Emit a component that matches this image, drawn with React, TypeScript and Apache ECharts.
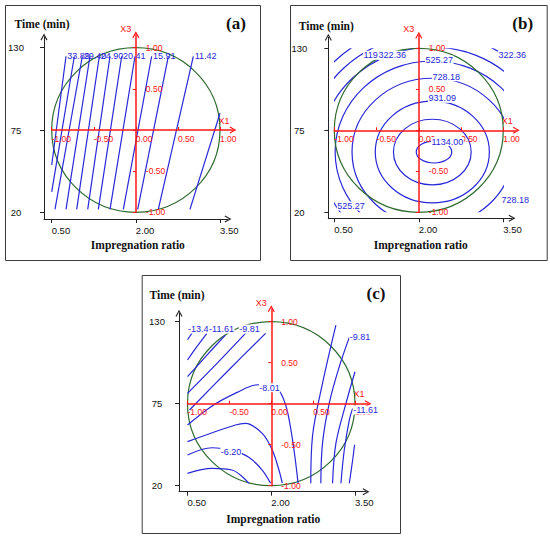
import React, { useEffect, useRef } from 'react';
import * as echarts from 'echarts';

// ---------------- data ----------------
const impregnationTicks = [0.5, 2.0, 3.5];
const timeTicks = [20, 75, 130];
const codedX1Ticks = [-1, -0.5, 0, 0.5, 1];
const codedX3Labels = [-1, -0.5, 0.5, 1];
// design region, coded units: [X1 centre, X3 centre, radius]
const designCircle = [[0, 0, 1]];

// (a) contour lines, coded units [X1, X3]
const contoursA = [
  [[-1.0, -0.425], [-0.83, 0.896]],
  [[-1.0, -0.753], [-0.731, 0.896]],
  [[-0.961, -0.964], [-0.636, 0.896]],
  [[-0.83, -0.964], [-0.545, 0.896]],
  [[-0.703, -0.964], [-0.434, 0.896]],
  [[-0.572, -0.964], [-0.307, 0.896]],
  [[-0.446, -0.964], [-0.168, 0.896]],
  [[-0.307, -0.964], [-0.01, 0.896]],
  [[-0.149, -0.964], [0.188, 0.896]],
  [[0.022, -0.964], [0.386, 0.896]],
  [[0.267, -0.964], [0.683, 0.896]],
  [[0.643, -0.964], [1.0, 0.203]],
];
const labelsA = [
  [-0.82, 0.896, '33.89'],
  [-0.626, 0.896, '29.40'],
  [-0.424, 0.896, '24.90'],
  [-0.158, 0.896, '20.41'],
  [0.198, 0.896, '15.91'],
  [0.693, 0.896, '11.42'],
];

// (b) contour rings, coded units [X1 centre, X3 centre, X1 radius, X3 radius]
const ringsB = [
  [0.18, -0.265, 0.21, 0.134],
  [0.16, -0.265, 0.46, 0.4],
  [0.16, -0.265, 0.675, 0.62],
  [0.16, -0.265, 0.95, 0.9],
  [0.16, -0.265, 1.15, 1.11],
  [0.16, -0.265, 1.33, 1.28],
  [0.16, -0.265, 1.49, 1.44],
  [0.16, -0.265, 1.63, 1.57],
];
const labelsB = [
  [0.144, -0.137, '1134.00'],
  [0.109, 0.39, '931.09'],
  [0.156, 0.654, '728.18'],
  [0.073, 0.857, '525.27'],
  [-0.97, -0.923, '525.27'],
  [-0.66, 0.915, '119.45'],
  [-0.483, 0.915, '322.36'],
  [0.937, 0.918, '322.36'],
  [0.973, -0.85, '728.18'],
];

// (c) contour lines, coded units [X1, X3]
const contoursC = [
  [[-1.0, 0.78], [-0.9, 0.93]],
  [[-1.0, 0.533], [-0.888, 0.695], [-0.768, 0.858]],
  [[-1.0, 0.329], [-0.768, 0.593], [-0.548, 0.837]],
  [[-1.0, 0.126], [-0.648, 0.492], [-0.308, 0.858]],
  [[-0.976, -0.077], [-0.528, 0.39], [-0.068, 0.858]],
  [[-1.0, -0.26], [-0.688, -0.016], [-0.408, 0.138], [-0.188, 0.228], [-0.04, 0.235], [0.08, 0.18], [0.172, -0.016], [0.232, -0.3], [0.28, -0.626], [0.32, -0.97]],
  [[-1.0, -0.463], [-0.428, -0.26], [-0.308, -0.24], [-0.108, -0.362], [0.012, -0.565], [0.092, -0.809], [0.132, -0.97]],
  [[-1.0, -0.626], [-0.708, -0.537], [-0.45, -0.575], [-0.268, -0.654], [-0.108, -0.809], [-0.008, -0.97]],
  [[-1.0, -0.85], [-0.708, -0.789], [-0.468, -0.809], [-0.268, -0.97]],
  [[0.472, -0.97], [0.492, -0.402], [0.612, 0.248], [0.772, 0.959]],
  [[0.592, -0.97], [0.612, -0.484], [0.692, 0.004], [0.812, 0.451], [0.932, 0.809]],
  [[0.732, -0.97], [0.772, -0.484], [0.892, 0.004], [1.0, 0.39]],
  [[0.832, -0.97], [0.872, -0.565], [0.932, -0.2], [0.972, -0.057]],
  [[0.932, -0.97], [0.972, -0.687], [0.995, -0.5]],
];
const labelsC = [
  [-1.0, 0.91, '-13.41'],
  [-0.748, 0.91, '-11.61'],
  [-0.388, 0.91, '-9.81'],
  [-0.148, 0.195, '-8.01'],
  [-0.608, -0.585, '-6.20'],
  [0.932, 0.809, '-9.81'],
  [0.972, -0.077, '-11.61'],
];

// ---------------- styles / layout ----------------
const BLUE = '#2828d8';
const RED = '#ff1414';
const GREEN = '#2f6b2f';
const INK = '#222222';
const SANS = '"Liberation Sans", Arial, sans-serif';
const SERIF = '"Liberation Serif", "Times New Roman", serif';
const ARROW = 'path://M5,0L10,9L8.6,9.8L5,3.2L1.4,9.8L0,9Z';

const panels = [
  { tag: '(a)', frame: [5, 5, 255, 255], plot: [51.7, 47.7, 168.3, 164.6], yAxisX: 44, xAxisY: 219, xTip: 232, yTip: 33, yLabelMargin: 28, nameDy: 24, kind: 'lines', contours: contoursA, labels: labelsA, labelBg: 'transparent', smooth: false },
  { tag: '(b)', frame: [290, 5, 256.7, 255], plot: [334.3, 48.3, 169, 164], yAxisX: 328.3, xAxisY: 218.3, xTip: 516, yTip: 33.3, yLabelMargin: 29, nameDy: 22, kind: 'rings', contours: ringsB, labels: labelsB, labelBg: '#ffffff', smooth: false },
  { tag: '(c)', frame: [141.7, 275, 258.3, 258], plot: [187.5, 321.7, 167.5, 164], yAxisX: 179, xAxisY: 491.7, xTip: 370, yTip: 309.3, yLabelMargin: 22, nameDy: 27, kind: 'lines', contours: contoursC, labels: labelsC, labelBg: '#ffffff', smooth: 0.35 },
];

function buildOption() {
  const grid: any[] = [];
  const xAxis: any[] = [];
  const yAxis: any[] = [];
  const series: any[] = [];
  const elements: any[] = [];
  const ARW = 4;
  const CODED_TIP = 17;
  const hidden = (gridIndex: number) => ({ gridIndex, type: 'value', min: 0, max: 1, show: false });

  panels.forEach((p, i) => {
    const [pl, pt, pw, ph] = p.plot;
    const pb = pt + ph;
    const cx = pl + pw / 2;
    const cy = pt + ph / 2;
    const toX = (px: number) => 0.5 + ((px - pl) * 3) / pw;
    const toT = (py: number) => 20 + ((pb - py) * 110) / ph;
    const gB = 4 * i, gRx = 4 * i + 1, gRy = 4 * i + 2, gC = 4 * i + 3;

    // black data axes
    const bTop = p.yTip + ARW;
    const bRight = p.xTip - ARW;
    grid.push({ left: p.yAxisX, top: bTop, width: bRight - p.yAxisX, height: p.xAxisY - bTop });
    xAxis.push({
      gridIndex: gB, type: 'value', min: toX(p.yAxisX), max: toX(bRight),
      axisLine: { onZero: false, lineStyle: { color: INK, width: 1 }, symbol: ['none', ARROW], symbolSize: [7, 8] },
      axisTick: { customValues: impregnationTicks, length: 4, lineStyle: { color: INK } },
      axisLabel: { customValues: impregnationTicks, formatter: (v: number) => v.toFixed(2), align: 'left', margin: 6, fontSize: 9.5, color: '#111', fontFamily: SANS },
      splitLine: { show: false },
    });
    yAxis.push({
      gridIndex: gB, type: 'value', min: toT(p.xAxisY), max: toT(bTop),
      axisLine: { onZero: false, lineStyle: { color: INK, width: 1 }, symbol: ['none', ARROW], symbolSize: [7, 8] },
      axisTick: { customValues: timeTicks, length: 4, lineStyle: { color: INK } },
      axisLabel: { customValues: timeTicks, formatter: (v: number) => String(v), align: 'center', margin: p.yLabelMargin, fontSize: 9.5, color: '#111', fontFamily: SANS },
      splitLine: { show: false },
    });

    // red coded X1 axis (its grid's bottom edge lies on X3 = 0)
    const rw = pw + CODED_TIP - ARW;
    const rh = ph + CODED_TIP - ARW;
    grid.push({ left: pl, top: cy - 1, width: rw, height: 1 });
    xAxis.push({
      gridIndex: gRx, type: 'value', min: -1, max: -1 + (2 * rw) / pw, z: 3,
      axisLine: { onZero: false, lineStyle: { color: RED, width: 1.5 }, symbol: ['none', ARROW], symbolSize: [7, 8] },
      axisTick: { customValues: codedX1Ticks, length: 3, inside: true, lineStyle: { color: RED } },
      axisLabel: { customValues: codedX1Ticks, formatter: (v: number) => v.toFixed(2), align: 'left', margin: 4, fontSize: 8.5, color: RED, fontFamily: SANS },
      splitLine: { show: false },
    });
    yAxis.push(hidden(gRx));

    // red coded X3 axis (its grid's left edge lies on X1 = 0)
    grid.push({ left: cx, top: pb - rh, width: 1, height: rh });
    xAxis.push(hidden(gRy));
    yAxis.push({
      gridIndex: gRy, type: 'value', min: -1, max: -1 + (2 * rh) / ph, z: 3,
      axisLine: { onZero: false, lineStyle: { color: RED, width: 1.5 }, symbol: ['none', ARROW], symbolSize: [7, 8] },
      axisTick: { customValues: codedX1Ticks, length: 3, lineStyle: { color: RED } },
      axisLabel: { customValues: codedX3Labels, formatter: (v: number) => v.toFixed(2), inside: true, margin: 10, fontSize: 8.5, color: RED, fontFamily: SANS },
      splitLine: { show: false },
    });

    // contour plane, coded [-1, 1] x [-1, 1]
    grid.push({ left: pl, top: pt, width: pw, height: ph });
    xAxis.push({ gridIndex: gC, type: 'value', min: -1, max: 1, show: false });
    yAxis.push({ gridIndex: gC, type: 'value', min: -1, max: 1, show: false });

    if (p.kind === 'lines') {
      (p.contours as number[][][]).forEach((pts) => {
        series.push({
          type: 'line', xAxisIndex: gC, yAxisIndex: gC, data: pts, showSymbol: false, symbol: 'none',
          smooth: p.smooth, clip: true, silent: true, z: 2,
          lineStyle: { color: BLUE, width: 1.2 },
        });
      });
    } else {
      series.push({
        type: 'custom', coordinateSystem: 'cartesian2d', xAxisIndex: gC, yAxisIndex: gC,
        data: p.contours, clip: true, silent: true, z: 2,
        renderItem: (_params: any, api: any) => {
          const c = api.coord([api.value(0), api.value(1)]);
          const s = api.size([api.value(2), api.value(3)]);
          return { type: 'ellipse', shape: { cx: c[0], cy: c[1], rx: s[0], ry: s[1] }, style: { fill: 'none', stroke: BLUE, lineWidth: 1.2 } };
        },
      });
    }

    // design circle
    series.push({
      type: 'custom', coordinateSystem: 'cartesian2d', xAxisIndex: gC, yAxisIndex: gC,
      data: designCircle, silent: true, z: 2,
      renderItem: (_params: any, api: any) => {
        const c = api.coord([api.value(0), api.value(1)]);
        const s = api.size([api.value(2), api.value(2)]);
        return { type: 'ellipse', shape: { cx: c[0], cy: c[1], rx: s[0], ry: s[1] }, style: { fill: 'none', stroke: GREEN, lineWidth: 1.2 } };
      },
    });

    // contour labels
    const labs = p.labels as any[];
    series.push({
      type: 'custom', coordinateSystem: 'cartesian2d', xAxisIndex: gC, yAxisIndex: gC,
      data: labs.map((l) => [l[0], l[1]]), silent: true, z: 4,
      renderItem: (params: any, api: any) => {
        const c = api.coord([api.value(0), api.value(1)]);
        return {
          type: 'text', x: c[0], y: c[1],
          style: { text: labs[params.dataIndex][2], fill: BLUE, font: `9px ${SANS}`, align: 'left', verticalAlign: 'middle', backgroundColor: p.labelBg, padding: [0, 0.5] },
        };
      },
    });

    // frame and texts
    const [fx, fy, fw, fh] = p.frame;
    elements.push({ type: 'rect', shape: { x: fx + 0.5, y: fy + 0.5, width: fw, height: fh }, style: { fill: 'none', stroke: '#3c3c3c', lineWidth: 1 } });
    elements.push({ type: 'text', x: p.yAxisX - 2, y: pt - p.nameDy, style: { text: 'Time (min)', font: `bold 11.5px ${SERIF}`, fill: '#111', align: 'center', verticalAlign: 'middle' } });
    elements.push({ type: 'text', x: cx + 2, y: pb + 33, style: { text: 'Impregnation ratio', font: `bold 11.5px ${SERIF}`, fill: '#111', align: 'center', verticalAlign: 'middle' } });
    elements.push({ type: 'text', x: fx + fw - 24, y: fy + 18, style: { text: p.tag, font: `bold 17px ${SERIF}`, fill: '#111', align: 'center', verticalAlign: 'middle' } });
    elements.push({ type: 'text', x: pl + pw + 4, y: cy - 9.5, style: { text: 'X1', font: `9px ${SANS}`, fill: RED, align: 'center', verticalAlign: 'middle' } });
    elements.push({ type: 'text', x: cx - 10, y: pt - 19, style: { text: 'X3', font: `9px ${SANS}`, fill: RED, align: 'center', verticalAlign: 'middle' } });
  });

  return { animation: false, backgroundColor: '#ffffff', grid, xAxis, yAxis, series, graphic: { elements } };
}

export default function App() {
  const ref = useRef<HTMLDivElement>(null);
  useEffect(() => {
    const chart = echarts.init(ref.current as HTMLDivElement, null, { renderer: 'svg', width: 550, height: 540 });
    chart.setOption(buildOption() as any);
    return () => chart.dispose();
  }, []);
  return <div ref={ref} style={{ position: 'fixed', left: 0, top: 0, width: 550, height: 540, background: '#fff' }} />;
}
